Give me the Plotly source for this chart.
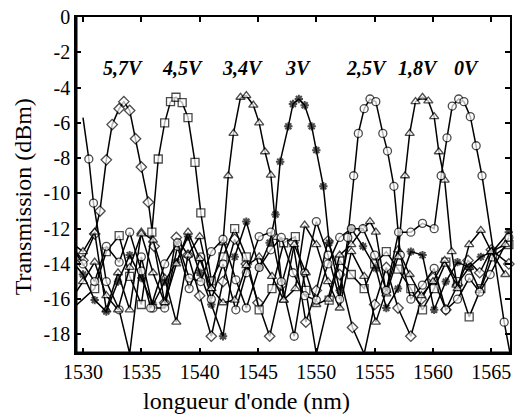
import plotly.graph_objects as go

# ---- data (wavelength nm, transmission dBm) ----
wl_57 = [1529.0, 1530.0, 1531.0, 1531.45, 1532.0, 1532.5, 1533.1, 1533.5, 1534.0, 1534.5, 1535.0, 1535.6,
         1536.1, 1537.0, 1538.0, 1539.0, 1540.0, 1541.0, 1542.0, 1543.0, 1544.0, 1545.0, 1546.0, 1547.0,
         1548.0, 1549.1, 1550.0, 1551.0, 1552.0, 1553.1, 1554.1, 1555.0, 1556.0, 1557.0, 1558.1, 1559.0,
         1560.0, 1561.1, 1562.1, 1563.0, 1564.0, 1565.0, 1566.5]
tr_57 = [-13.0, -13.8, -12.3, -11.0, -8.1, -6.1, -5.2, -4.8, -5.3, -6.9, -8.5, -10.5,
         -13.0, -16.2, -12.5, -13.5, -15.8, -18.1, -15.0, -12.6, -14.0, -16.2, -18.1, -15.2,
         -12.8, -17.3, -15.5, -12.7, -14.6, -17.6, -19.1, -16.3, -14.2, -16.5, -18.1, -16.0,
         -14.8, -16.6, -15.2, -13.8, -14.5, -13.2, -14.0]

wl_45 = [1529.0, 1531.0, 1532.0, 1533.1, 1534.0, 1535.0, 1535.9, 1536.45, 1537.0, 1537.5, 1537.97, 1538.5,
         1539.0, 1539.6, 1540.1, 1541.0, 1542.0, 1543.0, 1544.0, 1545.1, 1546.2, 1547.2, 1548.2, 1549.1,
         1550.0, 1551.1, 1552.0, 1553.0, 1554.1, 1555.0, 1556.0, 1557.0, 1558.1, 1559.1, 1560.1, 1561.1,
         1562.1, 1563.1, 1564.1, 1565.1, 1566.5]
tr_45 = [-16.6, -15.4, -13.3, -12.4, -14.7, -16.3, -12.2, -8.05, -6.0, -4.8, -4.55, -4.86,
         -5.7, -8.24, -11.1, -14.96, -13.6, -12.0, -13.6, -16.6, -15.4, -12.8, -12.45, -15.5,
         -19.1, -16.05, -13.8, -14.6, -15.4, -14.0, -13.3, -14.3, -15.4, -16.6, -15.4, -13.9,
         -15.0, -17.0, -15.4, -13.6, -12.9]

wl_34 = [1529.0, 1530.0, 1531.0, 1532.0, 1533.0, 1534.0, 1535.0, 1536.0, 1537.0, 1538.0, 1539.0, 1540.0,
         1541.0, 1542.0, 1542.45, 1542.9, 1543.5, 1544.0, 1544.6, 1545.1, 1545.6, 1546.1, 1546.6, 1547.2,
         1548.2, 1549.0, 1550.0, 1551.0, 1552.0, 1553.0, 1554.1, 1555.1, 1556.0, 1557.0, 1558.0, 1559.0,
         1560.0, 1561.0, 1562.0, 1563.1, 1564.0, 1565.0, 1566.2]
tr_34 = [-12.8, -13.3, -12.2, -16.6, -14.5, -16.6, -12.2, -12.65, -14.8, -17.3, -13.5, -12.45,
         -15.4, -12.8, -9.0, -6.6, -4.55, -4.46, -5.0, -6.0, -7.64, -8.96, -12.5, -16.05,
         -15.4, -11.8, -12.9, -15.0, -16.5, -13.3, -14.7, -17.3, -15.5, -13.2, -14.6, -15.8,
         -15.0, -13.8, -15.2, -14.2, -15.5, -13.3, -14.6]

wl_3 = [1529.0, 1530.0, 1531.0, 1532.0, 1533.0, 1534.0, 1535.0, 1536.0, 1537.0, 1538.0, 1539.0, 1540.0,
        1541.0, 1542.0, 1543.0, 1544.0, 1545.1, 1546.0, 1546.5, 1546.9, 1547.6, 1548.0, 1548.5, 1549.0,
        1549.6, 1550.0, 1550.6, 1551.1, 1552.0, 1553.0, 1554.0, 1555.1, 1556.0, 1557.0, 1558.1, 1559.1,
        1560.1, 1561.1, 1562.1, 1563.1, 1564.1, 1565.1, 1566.5]
tr_3 = [-13.8, -14.6, -16.05, -16.7, -15.0, -13.5, -14.8, -16.3, -15.0, -13.9, -12.45, -14.5,
        -16.3, -18.1, -13.6, -11.6, -14.2, -12.8, -11.2, -8.2, -6.2, -4.93, -4.65, -5.0,
        -6.2, -7.55, -9.6, -12.8, -15.5, -12.0, -13.0, -14.25, -16.5, -15.4, -13.3, -13.5,
        -16.6, -15.0, -13.9, -14.2, -13.6, -13.3, -12.2]

wl_25 = [1530.0, 1530.5, 1530.9, 1532.0, 1533.1, 1534.0, 1535.0, 1536.0, 1537.0, 1538.1, 1539.1, 1540.1,
         1541.0, 1542.0, 1543.1, 1544.0, 1545.1, 1546.1, 1547.0, 1548.1, 1549.0, 1550.0, 1551.0, 1552.0,
         1552.7, 1553.2, 1553.6, 1554.1, 1554.6, 1555.1, 1555.7, 1556.1, 1556.65, 1557.2, 1558.1, 1559.1,
         1560.1, 1561.1, 1562.1, 1563.1, 1564.0, 1564.9, 1566.5]
tr_25 = [-5.7, -8.05, -10.55, -15.0, -16.6, -19.08, -13.6, -16.5, -16.5, -13.0, -15.4, -13.6,
         -16.0, -14.0, -16.6, -14.5, -12.45, -12.2, -15.0, -18.1, -14.5, -11.6, -13.5, -16.0,
         -12.5, -9.0, -6.6, -5.2, -4.65, -4.8, -6.6, -7.6, -9.6, -13.5, -16.0, -15.2,
         -14.25, -16.6, -16.0, -14.8, -15.6, -14.6, -12.5]

wl_18 = [1529.0, 1530.0, 1531.0, 1532.0, 1533.0, 1534.0, 1535.0, 1536.0, 1537.0, 1538.0, 1539.0, 1540.0,
         1541.0, 1542.0, 1543.0, 1544.0, 1545.1, 1546.2, 1547.2, 1548.1, 1549.1, 1550.0, 1551.0, 1552.0,
         1553.0, 1554.0, 1554.6, 1555.1, 1556.0, 1557.0, 1557.6, 1558.0, 1558.5, 1559.1, 1559.6, 1560.1,
         1560.5, 1561.0, 1561.6, 1562.1, 1563.1, 1564.1, 1565.0, 1566.2]
tr_18 = [-16.0, -15.0, -13.9, -15.8, -16.6, -14.2, -12.3, -14.5, -16.2, -14.0, -12.2, -13.7,
         -15.4, -16.2, -16.05, -14.1, -13.6, -14.7, -16.05, -12.9, -14.5, -16.3, -16.0, -13.5,
         -12.9, -12.0, -11.6, -12.2, -15.7, -13.6, -9.0, -6.6, -4.8, -4.55, -4.76, -5.65,
         -7.64, -9.25, -13.3, -15.4, -12.9, -12.1, -13.3, -12.9]

wl_0 = [1529.0, 1530.0, 1531.0, 1532.0, 1533.1, 1534.0, 1535.0, 1535.8, 1537.0, 1538.1, 1539.1, 1540.1,
        1541.0, 1542.0, 1543.1, 1544.0, 1545.1, 1546.1, 1547.0, 1548.0, 1549.0, 1550.0, 1551.0, 1552.0,
        1553.0, 1554.0, 1555.0, 1556.0, 1557.05, 1558.1, 1559.1, 1560.1, 1560.7, 1561.2, 1561.65, 1562.2,
        1562.65, 1563.2, 1563.7, 1564.2, 1566.1, 1566.6]
tr_0 = [-13.0, -14.0, -15.0, -13.0, -13.9, -12.2, -14.4, -16.5, -14.0, -12.8, -14.8, -15.0,
        -13.3, -12.6, -14.9, -16.5, -14.2, -13.2, -12.5, -14.5, -15.8, -16.05, -14.0, -12.5,
        -12.0, -12.0, -13.5, -15.5, -12.2, -12.2, -11.7, -12.0, -9.0, -6.85, -5.05, -4.65,
        -4.8, -5.65, -7.3, -9.0, -17.3, -19.06]

peak_labels = ["5,7V", "4,5V", "3,4V", "3V", "2,5V", "1,8V", "0V"]
peak_label_x = [1533.4, 1538.5, 1543.7, 1548.4, 1554.3, 1558.75, 1562.9]
peak_label_y = -2.9

x_ticks = [1530, 1535, 1540, 1545, 1550, 1555, 1560, 1565]
y_ticks = [-18, -16, -14, -12, -10, -8, -6, -4, -2, 0]
y_tick_text = ["-18", "-16", "-14", "-12", "-10", "-8", "-6", "-4", "-2", "0"]
x_title = "longueur d'onde (nm)"
y_title = "Transmission (dBm)"

X_RANGE = [1529.4, 1566.6]
Y_RANGE = [-19.05, 0]

FONT = "Liberation Serif, Times New Roman, serif"

series = [
    ("5,7V", wl_57, tr_57, "diamond"),
    ("4,5V", wl_45, tr_45, "square"),
    ("3,4V", wl_34, tr_34, "triangle-up"),
    ("3V", wl_3, tr_3, "asterisk-open"),
    ("2,5V", wl_25, tr_25, "circle"),
    ("1,8V", wl_18, tr_18, "triangle-up"),
    ("0V", wl_0, tr_0, "circle"),
]

fig = go.Figure()
for name, xs, ys, sym in series:
    hidden = [x < X_RANGE[0] + 0.05 or (name == "2,5V" and x == xs[0]) for x in xs]
    if sym == "asterisk-open":
        marker = dict(symbol=sym, size=[0 if h else 7 for h in hidden], color="black",
                      line=dict(color="black", width=2))
    else:
        marker = dict(symbol=sym, size=[0 if h else 8 for h in hidden], color="white",
                      line=dict(color="black", width=1.3))
    fig.add_trace(go.Scatter(
        x=xs, y=ys, name=name, mode="lines+markers",
        line=dict(color="black", width=1.5),
        marker=marker, cliponaxis=False, showlegend=False,
    ))

for txt, lx in zip(peak_labels, peak_label_x):
    fig.add_annotation(x=lx, y=peak_label_y, text="<b><i>%s</i></b>" % txt, showarrow=False,
                       xanchor="center", yanchor="middle",
                       font=dict(family=FONT, size=20, color="black"))

# axis titles placed like the reference (x title left of centre, y title slightly low)
fig.add_annotation(xref="paper", yref="paper", x=0.392, y=-0.143, text=x_title, showarrow=False,
                   xanchor="center", yanchor="middle", font=dict(family=FONT, size=24, color="black"))
fig.add_annotation(xref="paper", yref="paper", x=-0.12, y=0.466, text=y_title, showarrow=False,
                   textangle=-90, xanchor="center", yanchor="middle",
                   font=dict(family=FONT, size=24, color="black"))

# thick left and bottom frame
fig.add_shape(type="line", xref="paper", yref="paper", x0=0, x1=0, y0=0, y1=1,
              line=dict(color="black", width=3))
fig.add_shape(type="line", xref="paper", yref="paper", x0=0, x1=1, y0=0, y1=0,
              line=dict(color="black", width=3))

fig.update_layout(
    width=522, height=414,
    margin=dict(l=76, r=12, t=17, b=61),
    paper_bgcolor="white", plot_bgcolor="white",
    font=dict(family=FONT, color="black"),
    xaxis=dict(range=X_RANGE, tickvals=x_ticks, ticks="inside", ticklen=5, tickwidth=1.5,
               tickcolor="black", showline=True, linecolor="black", linewidth=1.5,
               mirror="allticks", showgrid=False, zeroline=False, automargin=False,
               tickfont=dict(family=FONT, size=20)),
    yaxis=dict(range=Y_RANGE, tickvals=y_ticks, ticktext=y_tick_text, ticks="inside", ticklen=5,
               tickwidth=1.5, tickcolor="black", showline=True, linecolor="black", linewidth=1.5,
               mirror="allticks", showgrid=False, zeroline=False, automargin=False,
               tickfont=dict(family=FONT, size=20)),
)

fig.write_html("out.html", config={"displayModeBar": False})

# remove the browser's default 8px page margin so the figure sits at the window origin
with open("out.html", "r", encoding="utf-8") as fh:
    html = fh.read()
html = html.replace("<head>", "<head><style>html,body{margin:0;padding:0;overflow:hidden;}</style>", 1)
with open("out.html", "w", encoding="utf-8") as fh:
    fh.write(html)
